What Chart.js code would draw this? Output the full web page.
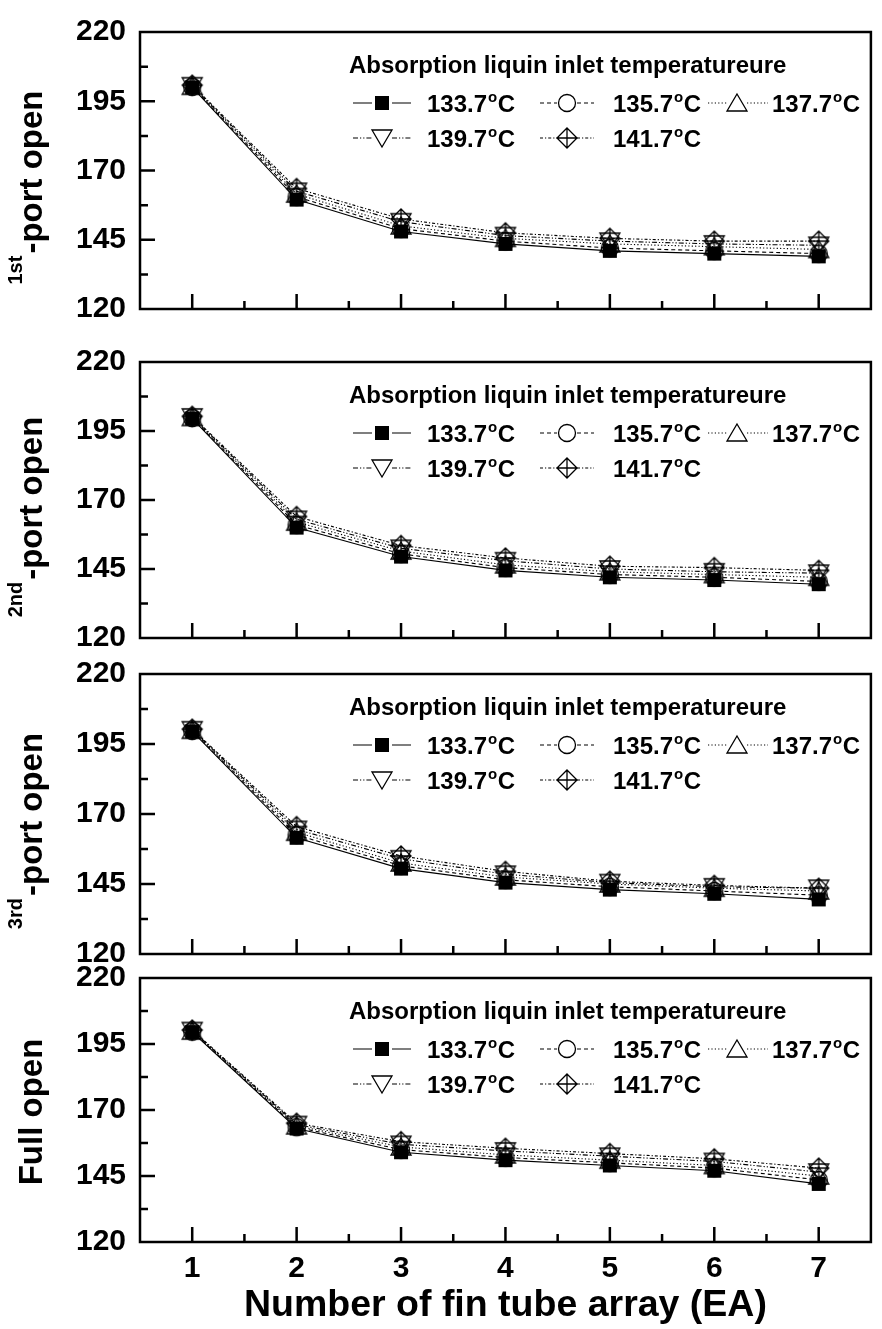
<!DOCTYPE html>
<html>
<head>
<meta charset="utf-8">
<script src="https://cdn.jsdelivr.net/npm/chart.js@4.4.1/dist/chart.umd.min.js"></script>
<style>
  html, body { margin: 0; padding: 0; background: #fff; }
  #wrap { position: relative; width: 882px; height: 1329px; overflow: hidden; background: #fff; }
  #wrap canvas { position: absolute; left: 0; top: 0; }
</style>
</head>
<body>
<div id="wrap"></div>
<script>
// ---- data ----
const tubeArrays = [1, 2, 3, 4, 5, 6, 7];
const yTicks = [120, 145, 170, 195, 220];
const inletTemps = ['133.7', '135.7', '137.7', '139.7', '141.7'];
const legendTitle = 'Absorption liquin inlet temperatureure';
const xTitle = 'Number of fin tube array (EA)';
const panelSup = ['1st', '2nd', '3rd', ''];
const panelName = ['-port open', '-port open', '-port open', 'Full open'];

// 1st-port open
const port1T1337 = [200.0, 159.5, 148.0, 143.5, 141.0, 140.0, 139.0];
const port1T1357 = [200.2, 160.5, 149.0, 144.5, 142.0, 141.0, 140.0];
const port1T1377 = [200.4, 161.5, 150.0, 145.5, 143.5, 142.5, 141.5];
const port1T1397 = [200.6, 162.5, 151.5, 146.5, 144.5, 143.5, 143.0];
const port1T1417 = [200.8, 163.5, 152.5, 147.5, 145.5, 144.5, 144.5];

// 2nd-port open
const port2T1337 = [199.5, 160.0, 149.5, 144.5, 142.0, 141.0, 139.5];
const port2T1357 = [199.7, 161.0, 150.5, 145.5, 143.0, 142.0, 140.5];
const port2T1377 = [199.9, 162.0, 151.5, 146.5, 144.0, 143.0, 142.0];
const port2T1397 = [200.1, 163.0, 152.5, 148.0, 145.0, 144.0, 143.5];
const port2T1417 = [200.3, 164.0, 153.5, 149.0, 146.0, 145.5, 144.5];

// 3rd-port open
const port3T1337 = [199.5, 161.5, 150.5, 145.5, 143.0, 141.5, 139.5];
const port3T1357 = [199.7, 162.5, 151.5, 146.5, 144.0, 142.5, 141.0];
const port3T1377 = [199.9, 163.5, 152.5, 147.5, 145.0, 143.5, 142.5];
const port3T1397 = [200.1, 164.5, 154.0, 148.5, 145.5, 144.0, 143.5];
const port3T1417 = [200.3, 165.5, 155.0, 149.5, 146.0, 144.5, 143.5];

// Full open
const fullT1337 = [199.5, 163.0, 154.0, 151.0, 149.0, 147.0, 142.0];
const fullT1357 = [199.7, 163.5, 155.0, 152.0, 150.0, 148.0, 143.5];
const fullT1377 = [199.9, 164.0, 156.0, 153.0, 151.0, 149.0, 145.0];
const fullT1397 = [200.1, 164.5, 157.0, 154.5, 152.5, 150.5, 146.5];
const fullT1417 = [200.3, 165.0, 158.0, 155.5, 153.5, 151.5, 148.0];

const panelSeries = [
  [port1T1337, port1T1357, port1T1377, port1T1397, port1T1417],
  [port2T1337, port2T1357, port2T1377, port2T1397, port2T1417],
  [port3T1337, port3T1357, port3T1377, port3T1397, port3T1417],
  [fullT1337, fullT1357, fullT1377, fullT1397, fullT1417]
];

// ---- layout & styles ----
const W = 882, H = 1329;
const FONT = '"Liberation Sans", Arial, Helvetica, sans-serif';
const frameTop = [23, 362, 674, 978];
const frameBottom = [309, 638, 954, 1242];
const titleShift = [17, 17, 17, 2];
const dashes = [[], [4, 3], [1.2, 2.2], [5, 2, 1.2, 2, 1.2, 2], [3, 2, 1.2, 2]];
const markerKinds = ['square', 'circle', 'triUp', 'triDown', 'diamondPlus'];
// legend columns: [line start, marker x, line end, label x]
const legendCols = [[353, 382, 411, 427], [540, 567, 594, 613], [708, 737, 768, 772]];

function makeMarker(kind) {
  const s = 24, m = s / 2;
  const c = document.createElement('canvas');
  c.width = s; c.height = s;
  const g = c.getContext('2d');
  g.strokeStyle = '#000'; g.fillStyle = '#000'; g.lineWidth = 1.3;
  g.beginPath();
  if (kind === 'square') {
    g.fillRect(m - 7, m - 7, 14, 14);
  } else if (kind === 'circle') {
    g.arc(m, m, 8.5, 0, Math.PI * 2); g.stroke();
  } else if (kind === 'triUp') {
    g.moveTo(m, m - 9); g.lineTo(m + 10, m + 8); g.lineTo(m - 10, m + 8); g.closePath(); g.stroke();
  } else if (kind === 'triDown') {
    g.moveTo(m, m + 9); g.lineTo(m + 10, m - 8); g.lineTo(m - 10, m - 8); g.closePath(); g.stroke();
  } else {
    g.moveTo(m, m - 10); g.lineTo(m + 10, m); g.lineTo(m, m + 10); g.lineTo(m - 10, m); g.closePath();
    g.moveTo(m - 10, m); g.lineTo(m + 10, m);
    g.moveTo(m, m - 10); g.lineTo(m, m + 10);
    g.stroke();
  }
  return c;
}
const markers = markerKinds.map(makeMarker);

// frame box plus inward major/minor ticks on the left and bottom axes
const framePlugin = {
  id: 'frameTicks',
  beforeDatasetsDraw(chart) {
    const { ctx, chartArea: a, scales: { x, y } } = chart;
    ctx.save();
    ctx.strokeStyle = '#000';
    ctx.lineWidth = 2.5;
    ctx.lineCap = 'butt';
    ctx.strokeRect(a.left, a.top, a.right - a.left, a.bottom - a.top);
    ctx.beginPath();
    for (let v = y.min; v <= y.max + 1e-6; v += 12.5) {
      if (v === y.min || v >= y.max - 1e-6) continue;
      const len = ((v - y.min) % 25 === 0) ? 15 : 8;
      const py = y.getPixelForValue(v);
      ctx.moveTo(a.left, py); ctx.lineTo(a.left + len, py);
    }
    for (let v = x.min; v <= x.max + 1e-6; v += 0.5) {
      if (v <= x.min + 1e-6 || v >= x.max - 1e-6) continue;
      const len = Number.isInteger(v) ? 15 : 8;
      const px = x.getPixelForValue(v);
      ctx.moveTo(px, a.bottom); ctx.lineTo(px, a.bottom - len);
    }
    ctx.stroke();
    ctx.restore();
  }
};

function drawTemp(ctx, text, x, yMid) {
  const base = yMid + 8.5;
  ctx.font = 'bold 24px ' + FONT;
  ctx.fillText(text, x, base);
  let cx = x + ctx.measureText(text).width + 1;
  ctx.font = 'bold 15px ' + FONT;
  ctx.fillText('o', cx, base - 9.5);
  cx += ctx.measureText('o').width + 0.5;
  ctx.font = 'bold 24px ' + FONT;
  ctx.fillText('C', cx, base);
}

// legend block and rotated y-axis caption
const annotPlugin = {
  id: 'annot',
  afterDatasetsDraw(chart, args, opts) {
    const { ctx, chartArea: a } = chart;
    ctx.save();
    ctx.fillStyle = '#000';
    ctx.textAlign = 'left';
    ctx.textBaseline = 'middle';
    ctx.font = 'bold 24px ' + FONT;
    ctx.fillText(legendTitle, 349, a.top + 34);
    ctx.textBaseline = 'alphabetic';
    chart.data.datasets.forEach((ds, i) => {
      const row = Math.floor(i / 3), col = i % 3;
      const yy = a.top + 71 + row * 35;
      const [x0, xm, x1, xt] = legendCols[col];
      ctx.strokeStyle = '#000';
      ctx.lineWidth = 1.1;
      ctx.setLineDash(ds.borderDash);
      ctx.beginPath();
      ctx.moveTo(x0, yy); ctx.lineTo(xm - 10, yy);
      ctx.moveTo(xm + 10, yy); ctx.lineTo(x1, yy);
      ctx.stroke();
      ctx.setLineDash([]);
      const img = ds.pointStyle;
      ctx.drawImage(img, xm - img.width / 2, yy - img.height / 2);
      drawTemp(ctx, inletTemps[i], xt, yy);
    });

    // y caption
    const cy = (a.top + a.bottom) / 2 + opts.shift;
    ctx.translate(0, cy);
    ctx.rotate(-Math.PI / 2);
    ctx.font = 'bold 20px ' + FONT;
    const sw = opts.sup ? ctx.measureText(opts.sup).width + 2 : 0;
    ctx.font = 'bold 33px ' + FONT;
    const mw = ctx.measureText(opts.name).width;
    const x0 = -(sw + mw) / 2;
    if (opts.sup) {
      ctx.font = 'bold 20px ' + FONT;
      ctx.fillText(opts.sup, x0, 22);
    }
    ctx.font = 'bold 33px ' + FONT;
    ctx.fillText(opts.name, x0 + sw, 42);
    ctx.restore();
  }
};

const wrap = document.getElementById('wrap');
panelSeries.forEach((series, p) => {
  const cv = document.createElement('canvas');
  cv.width = W; cv.height = H;
  cv.style.width = W + 'px'; cv.style.height = H + 'px';
  wrap.appendChild(cv);
  const isBottom = p === panelSeries.length - 1;
  new Chart(cv.getContext('2d'), {
    type: 'line',
    data: {
      datasets: series.map((vals, i) => ({
        label: inletTemps[i] + '°C',
        data: tubeArrays.map((t, k) => ({ x: t, y: vals[k] })),
        borderColor: '#000',
        backgroundColor: 'rgba(0,0,0,0)',
        borderWidth: 1.1,
        borderDash: dashes[i],
        pointStyle: markers[i],
        pointRadius: 10,
        pointHoverRadius: 10,
        fill: false,
        tension: 0
      }))
    },
    options: {
      responsive: false,
      animation: false,
      devicePixelRatio: 1,
      layout: { padding: { top: frameTop[p], left: 0, right: W - 880, bottom: 0 } },
      plugins: {
        legend: { display: false },
        tooltip: { enabled: false },
        annot: { sup: panelSup[p], name: panelName[p], shift: titleShift[p] }
      },
      scales: {
        x: {
          type: 'linear',
          min: 0.5, max: 7.5,
          afterBuildTicks: s => { s.ticks = tubeArrays.map(v => ({ value: v })); },
          afterFit: s => { s.height = H - frameBottom[p]; },
          grid: { display: false, drawTicks: false },
          border: { display: false },
          ticks: {
            display: isBottom,
            autoSkip: false,
            maxRotation: 0,
            padding: 9,
            color: '#000',
            font: { family: FONT, size: 30, weight: 'bold' }
          },
          title: {
            display: isBottom,
            text: xTitle,
            color: '#000',
            font: { family: FONT, size: 37.5, weight: 'bold' },
            padding: { top: 0, bottom: 1 }
          }
        },
        y: {
          type: 'linear',
          min: 120, max: 220,
          afterBuildTicks: s => { s.ticks = yTicks.map(v => ({ value: v })); },
          afterFit: s => { s.width = 140; },
          grid: { display: false, drawTicks: false },
          border: { display: false },
          ticks: {
            padding: 14,
            color: '#000',
            font: { family: FONT, size: 30, weight: 'bold' }
          }
        }
      }
    },
    plugins: [framePlugin, annotPlugin]
  });
});
</script>
</body>
</html>
